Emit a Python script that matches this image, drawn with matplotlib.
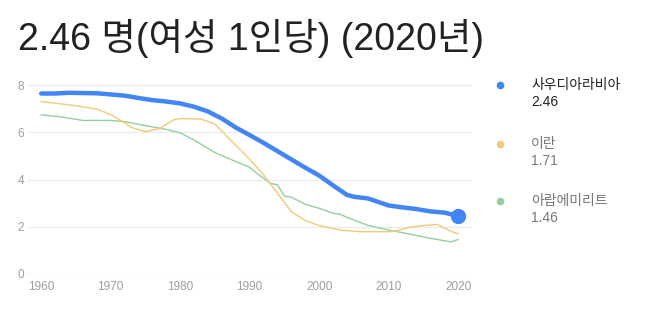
import matplotlib
matplotlib.use("Agg")
import matplotlib.pyplot as plt
from matplotlib.lines import Line2D

# Total fertility rate (births per woman)
saudi_years = [1960, 1962, 1964, 1966, 1968, 1970, 1972, 1974, 1976, 1978, 1980, 1982,
               1984, 1986, 1988, 1990, 1992, 1994, 1996, 1998, 2000, 2002, 2004, 2005,
               2007, 2008, 2010, 2012, 2014, 2016, 2018, 2020]
saudi_vals = [7.64, 7.64, 7.67, 7.66, 7.65, 7.60, 7.55, 7.45, 7.36, 7.30, 7.22, 7.08,
              6.88, 6.58, 6.20, 5.88, 5.55, 5.20, 4.85, 4.50, 4.17, 3.75, 3.35, 3.27,
              3.20, 3.10, 2.90, 2.82, 2.75, 2.65, 2.60, 2.46]

iran_years = [1960, 1962, 1964, 1966, 1968, 1970, 1972, 1973, 1975, 1977, 1979, 1980,
              1983, 1985, 1987, 1989, 1990, 1992, 1994, 1996, 1998, 2000, 2003, 2006,
              2010, 2011, 2013, 2015, 2017, 2019, 2020]
iran_vals = [7.30, 7.23, 7.16, 7.08, 6.98, 6.75, 6.40, 6.20, 6.03, 6.15, 6.52, 6.58,
             6.56, 6.35, 5.75, 5.15, 4.86, 4.20, 3.42, 2.64, 2.26, 2.05, 1.86, 1.79,
             1.79, 1.82, 1.98, 2.05, 2.10, 1.80, 1.71]

uae_years = [1960, 1963, 1966, 1970, 1972, 1975, 1978, 1980, 1982, 1985, 1988, 1990,
             1991, 1993, 1994, 1995, 1996, 1998, 2000, 2002, 2003, 2004, 2007, 2010,
             2013, 2016, 2019, 2020]
uae_vals = [6.74, 6.64, 6.50, 6.50, 6.45, 6.28, 6.12, 5.98, 5.67, 5.14, 4.76, 4.52,
            4.27, 3.84, 3.77, 3.30, 3.25, 2.95, 2.78, 2.57, 2.53, 2.40, 2.06, 1.86,
            1.69, 1.51, 1.36, 1.46]

names = ["사우디아라비아", "이란", "아랍에미리트"]
latest = ["2.46", "1.71", "1.46"]
colors = ["#4285f4", "#f2c977", "#93cf9f"]
x_ticks = [1960, 1970, 1980, 1990, 2000, 2010, 2020]
y_ticks = [0, 2, 4, 6, 8]

FONT = ["Liberation Sans", "Noto Sans CJK KR"]

fig = plt.figure(figsize=(6.46, 3.29), dpi=100)
ax = fig.add_axes([28 / 646, 1 - 274 / 329, 444 / 646, 189 / 329])

ax.plot(uae_years, uae_vals, color=colors[2], lw=1.0, clip_on=False, zorder=2)
ax.plot(iran_years, iran_vals, color=colors[1], lw=1.0, clip_on=False, zorder=2)
ax.plot(saudi_years, saudi_vals, color=colors[0], lw=3.2, clip_on=False, zorder=3,
        solid_capstyle="round")
ax.plot(saudi_years[-1], saudi_vals[-1], "o", color=colors[0], ms=10, clip_on=False, zorder=4)

ax.set_xlim(1958.1, 2022)
ax.set_ylim(0, 8)
ax.set_xticks(x_ticks)
ax.set_yticks(y_ticks)
ax.grid(axis="y", color="#ebebeb", lw=1)
ax.set_axisbelow(True)
for s in ax.spines.values():
    s.set_visible(False)
ax.tick_params(length=0, colors="#9e9e9e", labelsize=8.5)
ax.tick_params(axis="y", pad=3)
ax.tick_params(axis="x", pad=5)
for lab in ax.get_xticklabels() + ax.get_yticklabels():
    lab.set_family(FONT)

fig.text(18 / 646, 1 - 50 / 329, "2.46 명(여성 1인당) (2020년)", fontsize=27,
         color="#222222", family=FONT, va="baseline")

# legend column on the right
legend_y = [85, 144, 201]
for i in range(3):
    y = legend_y[i]
    tc = "#222222" if i == 0 else "#777777"
    fig.add_artist(Line2D([500 / 646], [1 - y / 329], marker="o", ms=4.5, lw=0,
                          color=colors[i], transform=fig.transFigure))
    fig.text(531 / 646, 1 - y / 329, names[i], fontsize=10, color=tc, family=FONT,
             va="center")
    fig.text(531 / 646, 1 - (y + 17) / 329, latest[i], fontsize=10, color=tc,
             family=FONT, va="center")

fig.savefig("out.png", dpi=100)
